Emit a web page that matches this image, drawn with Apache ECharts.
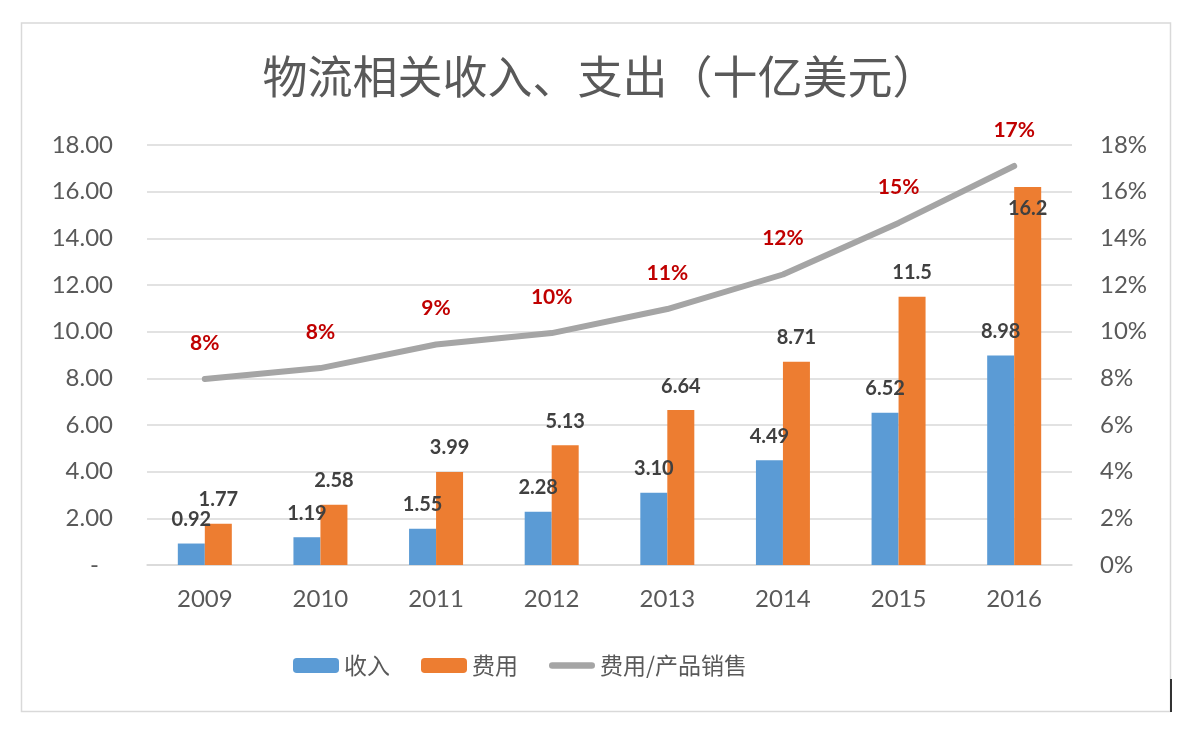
<!DOCTYPE html>
<html>
<head>
<meta charset="utf-8">
<script src="https://cdn.jsdelivr.net/npm/echarts@6/dist/echarts.min.js"></script>
<style>html,body{margin:0;padding:0;background:#fff}#c{width:1200px;height:750px}</style>
</head>
<body>
<div id="c"></div>
<script>
const titleText = '物流相关收入、支出（十亿美元）';
const years = ['2009','2010','2011','2012','2013','2014','2015','2016'];
const revenue = [0.92, 1.19, 1.55, 2.28, 3.10, 4.49, 6.52, 8.98];
const expense = [1.77, 2.58, 3.99, 5.13, 6.64, 8.71, 11.5, 16.2];
const ratio = [0.0797, 0.0844, 0.0945, 0.0994, 0.1097, 0.1245, 0.1466, 0.171];
const seriesNames = ['收入', '费用', '费用/产品销售'];

const numFont = 'Lato, "Noto Sans CJK SC", sans-serif';
const cjkFont = '"Noto Sans CJK SC", sans-serif';
const fmtBar = v => v >= 10 ? v.toFixed(1) : v.toFixed(2);

const chart = echarts.init(document.getElementById('c'), null, {renderer: 'canvas'});
const barLabel = {
  show: true, position: 'top', distance: 14,
  fontFamily: numFont, fontSize: 20, fontWeight: 'bold', color: '#404040',
  formatter: p => fmtBar(p.value)
};
chart.setOption({
  backgroundColor: '#fff',
  animation: false,
  graphic: [{
    type: 'rect', shape: {x: 21.5, y: 23, width: 1149, height: 688.5},
    style: {fill: 'none', stroke: '#d9d9d9', lineWidth: 1.5}, z: -1
  }, {
    type: 'line', shape: {x1: 1171, y1: 679, x2: 1171, y2: 712},
    style: {stroke: '#333', lineWidth: 2}
  }],
  title: {
    text: titleText, left: 'center', top: 49,
    textStyle: {fontFamily: cjkFont, fontSize: 45, fontWeight: 'normal', color: '#595959'}
  },
  legend: {
    top: 649, left: 288, itemGap: 31, itemWidth: 46, itemHeight: 15,
    textStyle: {fontFamily: cjkFont, fontSize: 23, color: '#595959'},
    data: [seriesNames[0], seriesNames[1], {
      name: seriesNames[2],
      icon: 'path://M7,0 H93 A7,7 0 0 1 93,14 H7 A7,7 0 0 1 7,0 Z'
    }]
  },
  grid: {left: 147, right: 128, top: 145, bottom: 185},
  xAxis: {
    type: 'category', data: years,
    axisLine: {lineStyle: {color: '#d9d9d9', width: 1.5}},
    axisTick: {show: false},
    axisLabel: {fontFamily: numFont, fontSize: 24, color: '#595959', margin: 22}
  },
  yAxis: [{
    type: 'value', min: 0, max: 18, interval: 2,
    axisLine: {show: false}, axisTick: {show: false},
    splitLine: {lineStyle: {color: '#d9d9d9', width: 1.5}},
    axisLabel: {
      fontFamily: numFont, fontSize: 24, color: '#595959', margin: 34,
      formatter: v => v === 0 ? '{d|-}' : v.toFixed(2),
      rich: {d: {fontFamily: numFont, fontSize: 24, color: '#595959', padding: [0, 14, 0, 0]}}
    }
  }, {
    type: 'value', min: 0, max: 0.18, interval: 0.02,
    axisLine: {show: false}, axisTick: {show: false}, splitLine: {show: false},
    axisLabel: {
      fontFamily: numFont, fontSize: 24, color: '#595959', margin: 28,
      formatter: v => Math.round(v * 100) + '%'
    }
  }],
  series: [{
    name: seriesNames[0], type: 'bar', data: revenue, barWidth: 27, barGap: '0%',
    itemStyle: {color: '#5b9bd5'}, label: barLabel
  }, {
    name: seriesNames[1], type: 'bar', barWidth: 27,
    data: expense.map((v, i) => i === expense.length - 1
      ? {value: v, label: {position: 'insideTop', distance: 12}} : v),
    itemStyle: {color: '#ed7d31'}, label: barLabel
  }, {
    name: seriesNames[2], type: 'line', yAxisIndex: 1, data: ratio,
    symbol: 'circle', symbolSize: 1, showSymbol: true,
    lineStyle: {color: '#a5a5a5', width: 6, cap: 'round', join: 'round'},
    itemStyle: {color: '#a5a5a5'},
    label: {
      show: true, position: 'top', distance: 25,
      fontFamily: numFont, fontSize: 21, fontWeight: 'bold', color: '#c00000',
      formatter: p => Math.round(p.value * 100) + '%'
    }
  }]
});
</script>
</body>
</html>
